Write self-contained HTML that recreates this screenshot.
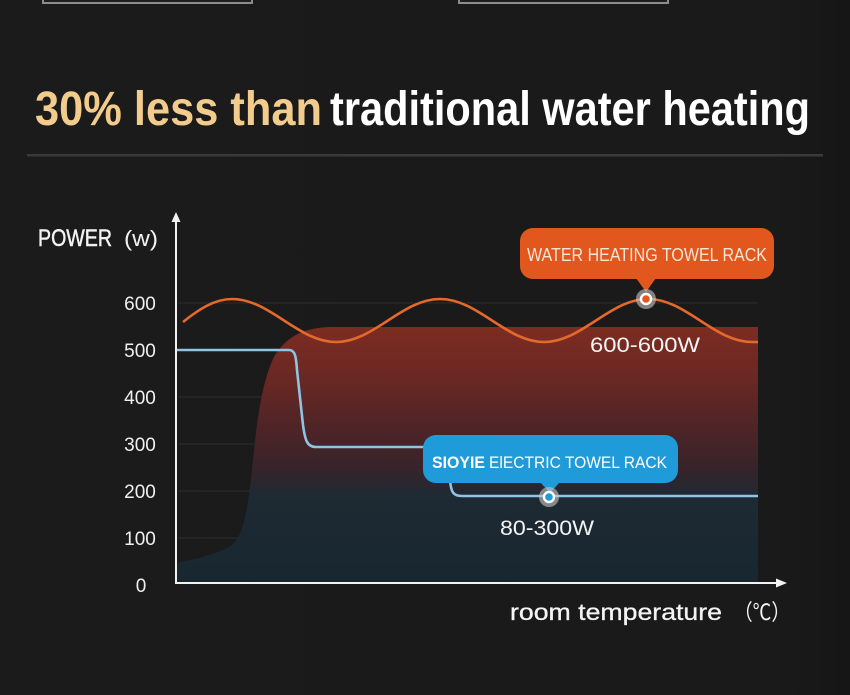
<!DOCTYPE html>
<html>
<head>
<meta charset="utf-8">
<style>
  html, body { margin: 0; padding: 0; background: #1a1a1a; }
  svg { display: block; }
  text { font-family: "Liberation Sans", "DejaVu Sans", "Noto Sans CJK SC", sans-serif; }
</style>
</head>
<body>
<svg width="850" height="695" viewBox="0 0 850 695" xmlns="http://www.w3.org/2000/svg">
  <defs>
    <linearGradient id="area" x1="0" y1="327" x2="0" y2="583" gradientUnits="userSpaceOnUse">
      <stop offset="0" stop-color="#7c2c21"/>
      <stop offset="0.2" stop-color="#6a2823"/>
      <stop offset="0.4" stop-color="#4e2427"/>
      <stop offset="0.56" stop-color="#35242a"/>
      <stop offset="0.66" stop-color="#1f2a33"/>
      <stop offset="1" stop-color="#172730"/>
    </linearGradient>
    <linearGradient id="bgfade" x1="0" y1="0" x2="1" y2="0">
      <stop offset="0" stop-color="#1b1b1b"/>
      <stop offset="0.9" stop-color="#1a1a1a"/>
      <stop offset="1" stop-color="#161616"/>
    </linearGradient>
  </defs>

  <rect x="0" y="0" width="850" height="695" fill="url(#bgfade)"/>

  <!-- top frames -->
  <rect x="43" y="-6" width="209" height="9" fill="#1e1e1e" stroke="#8c8c8c" stroke-width="2"/>
  <rect x="459" y="-6" width="209" height="9" fill="#1e1e1e" stroke="#8c8c8c" stroke-width="2"/>

  <!-- title -->
  <text x="35" y="125" font-size="48" font-weight="bold" fill="#f1cc8d" textLength="287" lengthAdjust="spacingAndGlyphs">30% less than</text>
  <text x="330" y="125" font-size="48" font-weight="bold" fill="#ffffff" textLength="480" lengthAdjust="spacingAndGlyphs">traditional water heating</text>

  <!-- divider -->
  <rect x="27" y="154" width="796" height="2.5" fill="#3a3a3a"/>

  <!-- grid lines -->
  <g stroke="#ffffff" stroke-opacity="0.07" stroke-width="1.2">
    <line x1="178" y1="303" x2="758" y2="303"/>
    <line x1="178" y1="397" x2="758" y2="397"/>
    <line x1="178" y1="444" x2="758" y2="444"/>
    <line x1="178" y1="491" x2="758" y2="491"/>
    <line x1="178" y1="538" x2="758" y2="538"/>
  </g>

  <!-- red/teal filled area -->
  <path d="M177,583 L177,563 C200,558 220,553 232,545 C245,535 249,500 253,460 C257,420 262,380 275,355 C288,335 305,328 330,327 L758,327 L758,583 Z" fill="url(#area)"/>

  <!-- orange wave -->
  <path d="M183,322 C198,310 214,299 232,299 C270,299 298,342 336,342 C374,342 402,299 440,299 C478,299 506,342 544,342 C582,342 610,299 648,299 C686,299 714,342 752,342 L758,342" fill="none" stroke="#e4692b" stroke-width="2.6"/>

  <!-- blue line -->
  <path d="M177,350 L289,350 C295,350 296,356 297,370 L303,425 C305,440 307,447 316,447 L445,447 C449,447 449,460 450,480 C451,492 453,496 462,496 L758,496" fill="none" stroke="#8ec4e4" stroke-width="2.6"/>

  <!-- axes -->
  <line x1="176" y1="584" x2="176" y2="220" stroke="#f2f2f2" stroke-width="2"/>
  <path d="M176,212 L171.5,222 L180.5,222 Z" fill="#f2f2f2"/>
  <line x1="175" y1="583" x2="778" y2="583" stroke="#f2f2f2" stroke-width="2"/>
  <path d="M787,583 L776,578.5 L776,587.5 Z" fill="#f2f2f2"/>

  <!-- y axis title -->
  <text x="38" y="246" font-size="24" fill="#f2f2f2" stroke="#f2f2f2" stroke-width="0.5" textLength="74" lengthAdjust="spacingAndGlyphs">POWER</text>
  <text x="124" y="246" font-size="22" fill="#f2f2f2" textLength="34" lengthAdjust="spacingAndGlyphs">(w)</text>

  <!-- y tick labels -->
  <g font-size="19" fill="#f0f0f0" text-anchor="middle">
    <text x="140" y="310">600</text>
    <text x="140" y="357">500</text>
    <text x="140" y="404">400</text>
    <text x="140" y="451">300</text>
    <text x="140" y="498">200</text>
    <text x="140" y="545">100</text>
    <text x="141" y="592">0</text>
  </g>

  <!-- orange tag -->
  <rect x="520" y="228" width="254" height="51" rx="13" ry="13" fill="#e1571d"/>
  <path d="M636,278 L656,278 L646,292 Z" fill="#e1571d"/>
  <text x="527" y="261" font-size="18" fill="#f7e6d8" textLength="240" lengthAdjust="spacingAndGlyphs">WATER HEATING TOWEL RACK</text>

  <!-- orange marker -->
  <circle cx="646" cy="299" r="10" fill="#c8c8c8" fill-opacity="0.6"/>
  <circle cx="646" cy="299" r="5" fill="#e1571d" stroke="#ffffff" stroke-width="2.4"/>

  <text x="590" y="352" font-size="21" fill="#f4f4f4" textLength="110" lengthAdjust="spacingAndGlyphs">600-600W</text>

  <!-- blue tag -->
  <rect x="423" y="435" width="255" height="48" rx="13" ry="13" fill="#1e9bd8"/>
  <path d="M540,482 L560,482 L550,493 Z" fill="#1e9bd8"/>
  <text x="432" y="468" font-size="17" font-weight="bold" fill="#ffffff" textLength="53" lengthAdjust="spacingAndGlyphs">SIOYIE</text>
  <text x="489" y="468" font-size="17" fill="#ffffff" textLength="178" lengthAdjust="spacingAndGlyphs">ElECTRIC TOWEL RACK</text>

  <!-- blue marker -->
  <circle cx="549" cy="497" r="10" fill="#c8c8c8" fill-opacity="0.6"/>
  <circle cx="549" cy="497" r="5" fill="#1e9bd8" stroke="#ffffff" stroke-width="2.4"/>

  <text x="500" y="535" font-size="21" fill="#f4f4f4" textLength="94" lengthAdjust="spacingAndGlyphs">80-300W</text>

  <!-- x axis title -->
  <text x="510" y="620" font-size="23" fill="#f4f4f4" stroke="#f4f4f4" stroke-width="0.3" textLength="212" lengthAdjust="spacingAndGlyphs">room temperature</text>
  <text x="734" y="620" font-size="22" fill="#f4f4f4" textLength="56" lengthAdjust="spacingAndGlyphs" style="font-family:'Noto Sans CJK SC','DejaVu Sans',sans-serif;">（℃）</text>
</svg>
</body>
</html>
